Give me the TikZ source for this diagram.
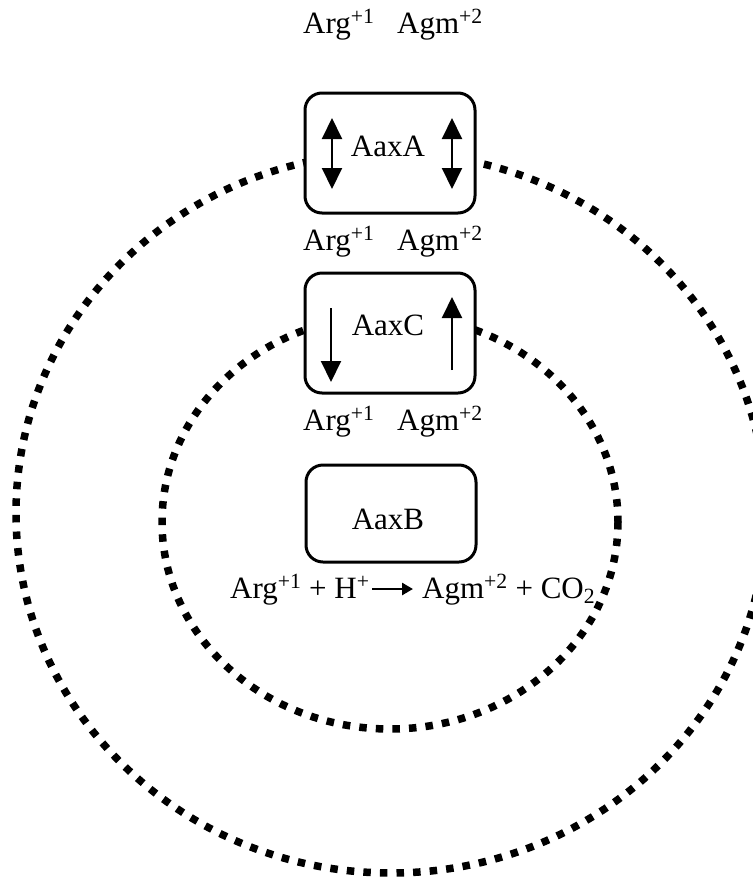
\documentclass[tikz,border=0pt]{standalone}
\usepackage{fontspec}
\setmainfont{Liberation Serif}
\usetikzlibrary{arrows.meta}
\begin{document}
\begin{tikzpicture}[x=1pt,y=-1pt,
  txt/.style={inner sep=0pt,font=\fontsize{31}{37}\selectfont},
  lbl/.style={txt,anchor=base west},
  boxnode/.style={draw,line width=3pt,rounded corners=17pt,fill=white,minimum width=170pt,inner sep=0pt},
  dotring/.style={line width=7.5pt,dash pattern=on 7.5pt off 9.1pt},
  shaft/.style={line width=2pt}]
\useasboundingbox (0,0) rectangle (753,879);
% rings
\draw[dotring] (391,513) ellipse [x radius=375, y radius=360];
\draw[dotring] (390,522) ellipse [x radius=228, y radius=207];
% boxes
\node[boxnode,minimum height=120pt] (boxA) at (390,153) {};
\node[boxnode,minimum height=120pt] (boxC) at (390,333) {};
\node[boxnode,minimum height=97pt] (boxB) at (391,513.5) {};
\node[txt] (tA) at (388,146) {AaxA};
\node[txt] (tC) at (388,325) {AaxC};
\node[txt] (tB) at (388,519) {AaxB};
% arrows in AaxA
\coordinate (a1t) at (332,118); \coordinate (a1b) at (332,189);
\coordinate (a2t) at (452,118); \coordinate (a2b) at (452,189);
\draw[shaft,{Triangle[width=20pt,length=21pt]}-{Triangle[width=20pt,length=21pt]}] (a1t) -- (a1b);
\draw[shaft,{Triangle[width=20pt,length=21pt]}-{Triangle[width=20pt,length=21pt]}] (a2t) -- (a2b);
% arrows in AaxC
\coordinate (c1t) at (331,308); \coordinate (c1b) at (331,382);
\coordinate (c2b) at (452,370); \coordinate (c2t) at (452,297);
\draw[shaft,-{Triangle[width=20pt,length=21pt]}] (c1t) -- (c1b);
\draw[shaft,-{Triangle[width=20pt,length=21pt]}] (c2b) -- (c2t);
% labels
\node[lbl] (arg0) at (303,33) {Arg\textsuperscript{+1}};
\node[lbl] (agm0) at (397,33) {Agm\textsuperscript{+2}};
\node[lbl] (arg1) at (303,250) {Arg\textsuperscript{+1}};
\node[lbl] (agm1) at (397,250) {Agm\textsuperscript{+2}};
\node[lbl] (arg2) at (303,430) {Arg\textsuperscript{+1}};
\node[lbl] (agm2) at (397,430) {Agm\textsuperscript{+2}};
% reaction
\node[lbl] (rxnL) at (230,598) {Arg\textsuperscript{+1} + H\textsuperscript{+}};
\node[lbl] (rxnR) at (422,598) {Agm\textsuperscript{+2} + CO\textsubscript{2}};
\coordinate (rxs) at (372,589); \coordinate (rxe) at (413,589);
\draw[line width=2.6pt,-{Triangle[width=12pt,length=11pt]}] (rxs) -- (rxe);
\end{tikzpicture}
\end{document}
